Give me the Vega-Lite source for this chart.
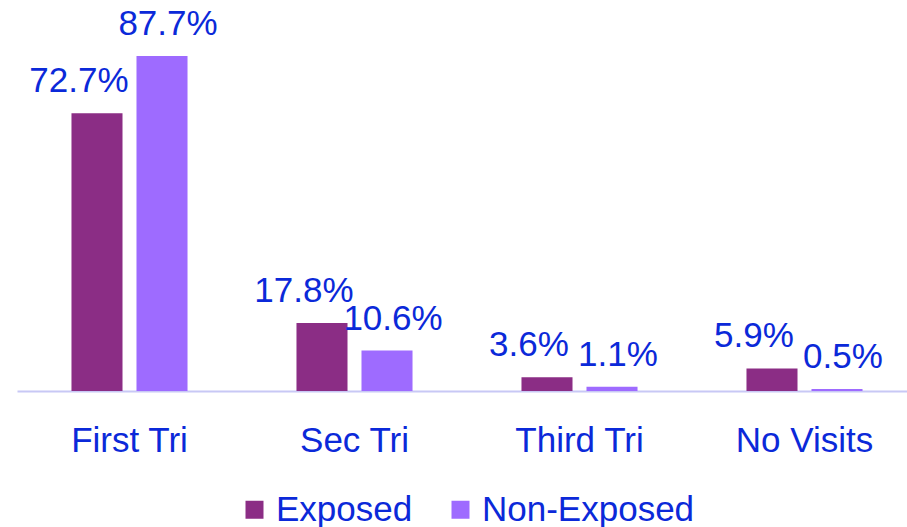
{
  "$schema": "https://vega.github.io/schema/vega-lite/v6.json",
  "width": 900,
  "height": 382,
  "autosize": "none",
  "padding": {"left": 17, "top": 9, "right": 0, "bottom": 136},
  "background": "white",
  "config": {
    "view": {"stroke": null},
    "font": "Liberation Sans"
  },
  "data": {
    "values": [
      {"cat": "First Tri", "group": "Exposed", "v": 0.727},
      {"cat": "First Tri", "group": "Non-Exposed", "v": 0.877},
      {"cat": "Sec Tri", "group": "Exposed", "v": 0.178},
      {"cat": "Sec Tri", "group": "Non-Exposed", "v": 0.106},
      {"cat": "Third Tri", "group": "Exposed", "v": 0.036},
      {"cat": "Third Tri", "group": "Non-Exposed", "v": 0.011},
      {"cat": "No Visits", "group": "Exposed", "v": 0.059},
      {"cat": "No Visits", "group": "Non-Exposed", "v": 0.005}
    ]
  },
  "encoding": {
    "x": {
      "field": "cat", "type": "nominal", "sort": null,
      "scale": {"paddingInner": 0, "paddingOuter": 0},
      "axis": {
        "title": null, "labelAngle": 0, "ticks": false,
        "domainColor": "#C8C8F5", "domainWidth": 2,
        "labelFontSize": 35, "labelColor": "#0B29D9", "labelPadding": 32,
        "labelFont": "Liberation Sans"
      }
    },
    "xOffset": {
      "field": "group", "type": "nominal",
      "scale": {"paddingInner": 0.215, "paddingOuter": 0.838}
    },
    "y": {
      "field": "v", "type": "quantitative",
      "scale": {"domain": [0, 1]},
      "axis": null
    }
  },
  "layer": [
    {
      "mark": {"type": "bar"},
      "encoding": {
        "color": {
          "field": "group", "type": "nominal",
          "scale": {"domain": ["Exposed", "Non-Exposed"], "range": ["#8B2D85", "#9E6BFF"]},
          "legend": {
            "title": null, "orient": "none", "direction": "horizontal",
            "legendX": 220, "legendY": 483,
            "symbolType": "square", "symbolSize": 324, "symbolStrokeWidth": 0,
            "labelFontSize": 35, "labelColor": "#0B29D9", "labelOffset": 4,
            "labelLimit": 0,
            "columnPadding": 30, "labelFont": "Liberation Sans"
          }
        }
      }
    },
    {
      "transform": [{"filter": "datum.group === 'Exposed'"}],
      "mark": {"type": "text", "baseline": "bottom", "dy": -14, "dx": -18, "fontSize": 35, "color": "#0B29D9", "font": "Liberation Sans"},
      "encoding": {
        "text": {"field": "v", "type": "quantitative", "format": ".1%"}
      }
    },
    {
      "transform": [{"filter": "datum.group === 'Non-Exposed'"}],
      "mark": {"type": "text", "baseline": "bottom", "dy": -14, "dx": 6, "fontSize": 35, "color": "#0B29D9", "font": "Liberation Sans"},
      "encoding": {
        "text": {"field": "v", "type": "quantitative", "format": ".1%"}
      }
    }
  ]
}
